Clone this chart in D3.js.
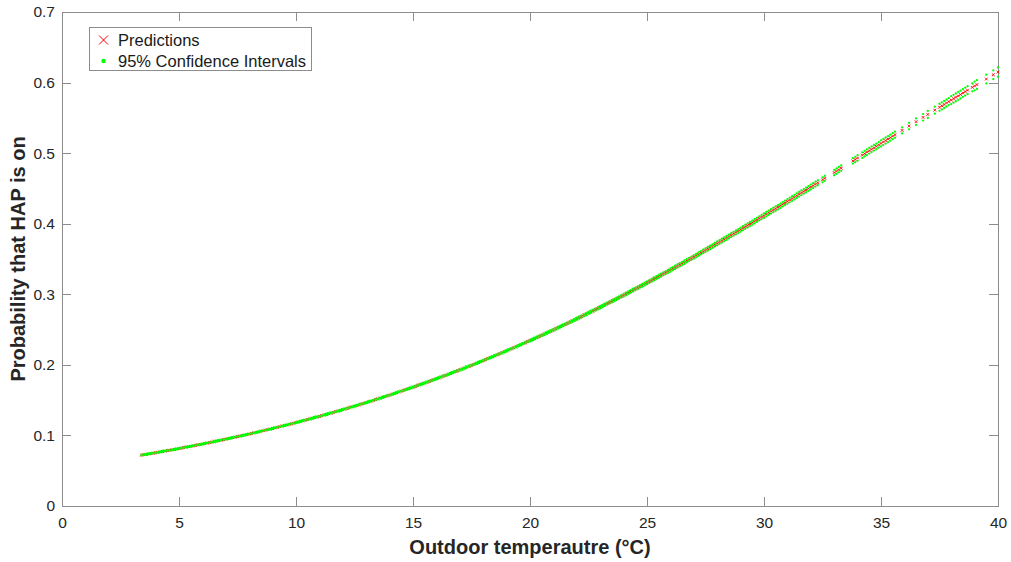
<!DOCTYPE html>
<html lang="en">
<head>
<meta charset="UTF-8">
<title>Probability that HAP is on</title>
<script src="https://d3js.org/d3.v7.min.js"></script>
<style>
    body {
        margin: 0;
        background: #ffffff;
        font-family: Arial, 'Liberation Sans', Helvetica, sans-serif;
    }
    .axis path, .axis line {
        stroke: #8c8c8c;
        shape-rendering: crispEdges;
    }
    .axis text {
        fill: #262626;
        font-size: 15.5px;
        font-family: Arial, 'Liberation Sans', Helvetica, sans-serif;
    }
    .label {
        fill: #262626;
        font-size: 20px;
        font-weight: bold;
    }
</style>
</head>
<body>
<svg id="chart" width="1011" height="562"></svg>
<script>
// outdoor temperature (°C) of each prediction
const temps = [
    3.4,3.5,3.6,3.7,3.8,3.9,
    4.0,4.1,4.2,4.3,4.4,4.5,4.6,4.7,4.8,4.9,
    5.0,5.1,5.2,5.3,5.4,5.5,5.6,5.7,5.8,5.9,
    6.0,6.1,6.2,6.3,6.4,6.5,6.6,6.7,6.8,6.9,
    7.0,7.1,7.2,7.3,7.4,7.5,7.6,7.7,7.8,7.9,
    8.0,8.1,8.2,8.3,8.4,8.5,8.6,8.7,8.8,8.9,
    9.0,9.1,9.2,9.3,9.4,9.5,9.6,9.7,9.8,9.9,
    10.0,10.1,10.2,10.3,10.4,10.5,10.6,10.7,10.8,10.9,
    11.0,11.1,11.2,11.3,11.4,11.5,11.6,11.7,11.8,11.9,
    12.0,12.1,12.2,12.3,12.4,12.5,12.6,12.7,12.8,12.9,
    13.0,13.1,13.2,13.3,13.4,13.5,13.6,13.7,13.8,13.9,
    14.0,14.1,14.2,14.3,14.4,14.5,14.6,14.7,14.8,14.9,
    15.0,15.1,15.2,15.3,15.4,15.5,15.6,15.7,15.8,15.9,
    16.0,16.1,16.2,16.3,16.4,16.5,16.6,16.7,16.8,16.9,
    17.0,17.1,17.2,17.3,17.4,17.5,17.6,17.7,17.8,17.9,
    18.0,18.1,18.2,18.3,18.4,18.5,18.6,18.7,18.8,18.9,
    19.0,19.1,19.2,19.3,19.4,19.5,19.6,19.7,19.8,19.9,
    20.0,20.1,20.2,20.3,20.4,20.5,20.6,20.7,20.8,20.9,
    21.0,21.1,21.2,21.3,21.4,21.5,21.6,21.7,21.8,21.9,
    22.0,22.1,22.2,22.3,22.4,22.5,22.6,22.7,22.8,22.9,
    23.0,23.1,23.2,23.3,23.4,23.5,23.6,23.7,23.8,23.9,
    24.0,24.1,24.2,24.3,24.4,24.5,24.6,24.7,24.8,24.9,
    25.0,25.1,25.2,25.3,25.4,25.5,25.6,25.7,25.8,25.9,
    26.0,26.1,26.2,26.3,26.4,26.5,26.6,26.7,26.8,26.9,
    27.0,27.1,27.2,27.3,27.4,27.5,27.6,27.7,27.8,27.9,
    28.0,28.1,28.2,28.3,28.4,28.5,28.6,28.7,28.8,28.9,
    29.0,29.1,29.2,29.3,29.4,29.5,29.6,29.7,29.8,29.9,
    30.0,30.1,30.2,30.3,30.4,30.5,30.6,30.7,30.8,30.9,
    31.0,31.1,31.2,31.3,31.4,31.5,31.6,31.7,31.8,31.9,
    32.0,32.1,32.2,32.3,32.5,32.6,
    33.0,33.1,33.2,33.3,33.8,33.9,
    34.0,34.2,34.3,34.4,34.5,34.6,34.7,34.8,34.9,
    35.0,35.1,35.2,35.3,35.4,35.5,35.6,35.9,
    36.2,36.5,36.8,
    37.0,37.3,37.5,37.6,37.7,37.8,37.9,
    38.0,38.1,38.2,38.3,38.4,38.5,38.6,38.7,38.9,
    39.0,39.1,39.5,39.8,
    40.0
];

// predicted probability that the HAP is on
const preds = [
    0.0721,0.0727,0.0732,0.0738,0.0744,0.0749,
    0.0755,0.0761,0.0767,0.0773,0.0779,0.0785,0.0790,0.0796,0.0802,0.0808,
    0.0814,0.0821,0.0827,0.0834,0.0840,0.0846,0.0853,0.0859,0.0866,0.0872,
    0.0878,0.0885,0.0892,0.0899,0.0906,0.0913,0.0919,0.0926,0.0933,0.0940,
    0.0947,0.0954,0.0961,0.0969,0.0976,0.0983,0.0991,0.0998,0.1005,0.1013,
    0.1020,0.1028,0.1036,0.1043,0.1051,0.1059,0.1067,0.1075,0.1083,0.1090,
    0.1098,0.1107,0.1115,0.1123,0.1132,0.1140,0.1148,0.1157,0.1165,0.1173,
    0.1182,0.1190,0.1199,0.1208,0.1217,0.1226,0.1235,0.1244,0.1253,0.1262,
    0.1270,0.1280,0.1289,0.1299,0.1308,0.1318,0.1327,0.1337,0.1346,0.1355,
    0.1365,0.1375,0.1385,0.1395,0.1405,0.1415,0.1425,0.1435,0.1445,0.1455,
    0.1465,0.1476,0.1486,0.1497,0.1508,0.1518,0.1529,0.1540,0.1550,0.1561,
    0.1571,0.1583,0.1594,0.1605,0.1617,0.1628,0.1639,0.1650,0.1662,0.1673,
    0.1684,0.1696,0.1708,0.1720,0.1732,0.1743,0.1755,0.1767,0.1779,0.1791,
    0.1803,0.1815,0.1828,0.1841,0.1853,0.1866,0.1878,0.1891,0.1903,0.1916,
    0.1928,0.1941,0.1955,0.1968,0.1981,0.1994,0.2007,0.2020,0.2034,0.2047,
    0.2060,0.2074,0.2088,0.2102,0.2115,0.2129,0.2143,0.2157,0.2171,0.2185,
    0.2198,0.2213,0.2227,0.2242,0.2256,0.2271,0.2285,0.2300,0.2314,0.2329,
    0.2343,0.2358,0.2374,0.2389,0.2404,0.2419,0.2434,0.2449,0.2465,0.2480,
    0.2495,0.2511,0.2526,0.2542,0.2558,0.2574,0.2589,0.2605,0.2621,0.2637,
    0.2653,0.2669,0.2685,0.2702,0.2718,0.2735,0.2751,0.2767,0.2784,0.2800,
    0.2817,0.2834,0.2851,0.2868,0.2885,0.2902,0.2919,0.2936,0.2953,0.2970,
    0.2987,0.3004,0.3022,0.3040,0.3057,0.3075,0.3092,0.3110,0.3127,0.3145,
    0.3163,0.3181,0.3199,0.3217,0.3235,0.3253,0.3271,0.3290,0.3308,0.3326,
    0.3344,0.3363,0.3381,0.3400,0.3418,0.3437,0.3456,0.3474,0.3493,0.3512,
    0.3530,0.3549,0.3568,0.3587,0.3607,0.3626,0.3645,0.3664,0.3683,0.3702,
    0.3721,0.3741,0.3760,0.3780,0.3799,0.3819,0.3838,0.3858,0.3877,0.3897,
    0.3916,0.3936,0.3956,0.3976,0.3995,0.4015,0.4035,0.4055,0.4075,0.4095,
    0.4114,0.4135,0.4155,0.4175,0.4195,0.4215,0.4235,0.4255,0.4276,0.4296,
    0.4316,0.4336,0.4357,0.4377,0.4397,0.4418,0.4438,0.4458,0.4479,0.4499,
    0.4520,0.4540,0.4561,0.4581,0.4622,0.4643,
    0.4725,0.4745,0.4766,0.4787,0.4890,0.4910,
    0.4931,0.4972,0.4993,0.5013,0.5034,0.5055,0.5076,0.5096,0.5117,
    0.5138,0.5158,0.5179,0.5199,0.5220,0.5241,0.5261,0.5323,
    0.5384,0.5446,0.5507,
    0.5548,0.5609,0.5650,0.5670,0.5690,0.5711,0.5731,
    0.5751,0.5771,0.5791,0.5811,0.5831,0.5852,0.5872,0.5892,0.5932,
    0.5952,0.5972,0.6050,0.6110,
    0.6149
];

// half width of the 95% confidence interval, per whole degree 0..40
const ciHalfWidth = [
    0.0006,0.0006,0.0006,0.0006,0.0006,0.0006,0.0006,0.0006,0.0006,0.0006,
    0.0008,0.0008,0.0008,0.0008,0.0008,
    0.0010,0.0010,0.0010,0.0010,0.0010,
    0.0013,0.0014,0.0016,0.0017,0.0019,0.0021,0.0023,0.0025,0.0027,0.0029,
    0.0031,0.0033,0.0035,0.0038,0.0040,0.0043,0.0046,0.0050,0.0056,0.0062,
    0.0066
];

const xTicks = [0, 5, 10, 15, 20, 25, 30, 35, 40];
const yTicks = [0, 0.1, 0.2, 0.3, 0.4, 0.5, 0.6, 0.7];
const yTickLabels = ["0", "0.1", "0.2", "0.3", "0.4", "0.5", "0.6", "0.7"];
const legendLabels = ["Predictions", "95% Confidence Intervals"];

const predColor = "#ff0000";
const ciColor = "#00ff00";

const svg = d3.select("#chart");
const plot = {left: 62, right: 998, top: 12, bottom: 506};

const x = d3.scaleLinear().domain([0, 40]).range([plot.left, plot.right]);
const y = d3.scaleLinear().domain([0, 0.7]).range([plot.bottom, plot.top]);

const points = temps.map((t, i) => ({t: t, p: preds[i]}));
const ciPoints = [];
points.forEach(d => {
    const hw = ciHalfWidth[Math.floor(d.t)];
    ciPoints.push({t: d.t, p: d.p + hw});
    ciPoints.push({t: d.t, p: d.p - hw});
});

// axes (ticks point inward, box on all four sides)
svg.append("g")
    .attr("class", "axis")
    .attr("transform", `translate(0,${plot.bottom})`)
    .call(d3.axisBottom(x).tickValues(xTicks).tickSizeInner(-9).tickSizeOuter(0).tickPadding(11));

svg.append("g")
    .attr("class", "axis")
    .attr("transform", `translate(0,${plot.top})`)
    .call(d3.axisTop(x).tickValues(xTicks).tickSizeInner(-9).tickSizeOuter(0).tickFormat(""));

svg.append("g")
    .attr("class", "axis")
    .attr("transform", `translate(${plot.left},0)`)
    .call(d3.axisLeft(y).tickValues(yTicks).tickSizeInner(-9).tickSizeOuter(0).tickPadding(7)
        .tickFormat((d, i) => yTickLabels[i]));

svg.append("g")
    .attr("class", "axis")
    .attr("transform", `translate(${plot.right},0)`)
    .call(d3.axisRight(y).tickValues(yTicks).tickSizeInner(-9).tickSizeOuter(0).tickFormat(""));

// predictions as small red crosses
const s = 1.4;
svg.append("g")
    .selectAll("path")
    .data(points)
    .join("path")
    .attr("d", `M${-s},${-s}L${s},${s}M${-s},${s}L${s},${-s}`)
    .attr("transform", d => `translate(${x(d.t)},${y(d.p)})`)
    .attr("stroke", predColor)
    .attr("stroke-width", 0.9)
    .attr("fill", "none");

// confidence bounds as green dots
svg.append("g")
    .selectAll("circle")
    .data(ciPoints)
    .join("circle")
    .attr("cx", d => x(d.t))
    .attr("cy", d => y(d.p))
    .attr("r", 1.15)
    .attr("fill", ciColor);

// axis labels
svg.append("text")
    .attr("class", "label")
    .attr("x", (plot.left + plot.right) / 2)
    .attr("y", 554)
    .attr("text-anchor", "middle")
    .text("Outdoor temperautre (°C)");

svg.append("text")
    .attr("class", "label")
    .attr("transform", `translate(25,${(plot.top + plot.bottom) / 2}) rotate(-90)`)
    .attr("text-anchor", "middle")
    .text("Probability that HAP is on");

// legend
const legend = svg.append("g");
legend.append("rect")
    .attr("x", 89.5)
    .attr("y", 27.5)
    .attr("width", 222)
    .attr("height", 43)
    .attr("fill", "#ffffff")
    .attr("stroke", "#8c8c8c");

const ls = 4.5;
legend.append("path")
    .attr("d", `M${-ls},${-ls}L${ls},${ls}M${-ls},${ls}L${ls},${-ls}`)
    .attr("transform", "translate(103.5,40)")
    .attr("stroke", predColor)
    .attr("stroke-width", 1)
    .attr("fill", "none");

legend.append("circle")
    .attr("cx", 103.5)
    .attr("cy", 61)
    .attr("r", 2.2)
    .attr("fill", ciColor);

legend.selectAll("text")
    .data(legendLabels)
    .join("text")
    .attr("x", 118)
    .attr("y", (d, i) => 40 + i * 21.5)
    .attr("dy", "0.35em")
    .attr("fill", "#1a1a1a")
    .style("font-size", "16.5px")
    .text(d => d);
</script>
</body>
</html>
